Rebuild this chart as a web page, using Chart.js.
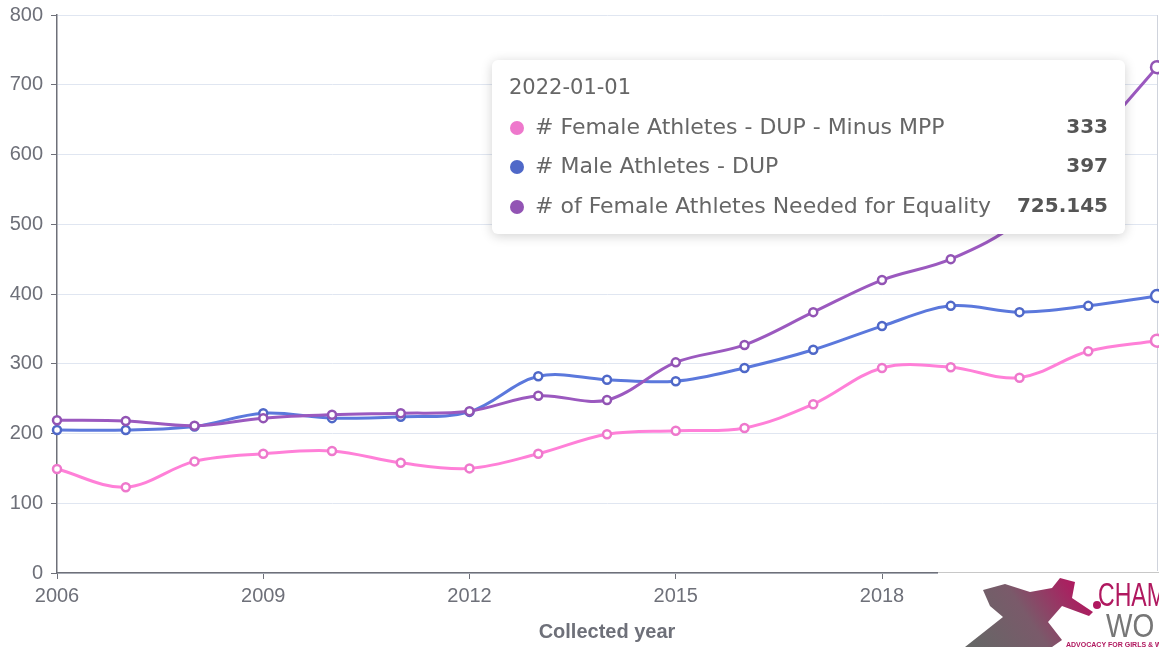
<!DOCTYPE html>
<html><head><meta charset="utf-8">
<script src="https://cdn.jsdelivr.net/npm/chart.js@4.4.1/dist/chart.umd.min.js"></script>
<style>html,body{margin:0;padding:0;background:#fff;}#wrap{width:1159px;height:647px;position:relative;}</style>
</head><body><div id="wrap"><canvas id="c" width="1159" height="647"></canvas></div>
<script>
const years = ['2006','2007','2008','2009','2010','2011','2012','2013','2014','2015','2016','2017','2018','2019','2020','2021','2022'];
const femaleMinusMPP = [149,123,160,171,175,158,150,171,199,204,208,242,294,295,280,318,333];
const maleDUP = [205,205,210,229,222,224,231,282,277,275,294,320,354,383,374,383,397];
const femaleNeeded = [219,218,211,222,227,229,232,254,248,302,327,374,420,450,505,612,725.145];
const seriesNames = ['# Female Athletes - DUP - Minus MPP','# Male Athletes - DUP','# of Female Athletes Needed for Equality'];
const yTicks = [0,100,200,300,400,500,600,700,800];
const tooltipTitle = '2022-01-01';
const activeIndex = 16;

const TIPFONT = '"DejaVu Sans", "Noto Sans", sans-serif';
const AXFONT = '"Liberation Sans", Arial, sans-serif';
const lineColors = ['#ff80d8','#5b78dc','#9b59bf'];
const markColors = ['#ee78cc','#4f68c8','#9254b4'];

function ds(i, data, order){
  return {
    label: seriesNames[i], data, order,
    borderColor: lineColors[i], borderWidth: 3,
    pointBackgroundColor: '#fff', pointBorderColor: markColors[i], pointBorderWidth: 2.5,
    pointRadius: c => c.dataIndex === activeIndex ? 6 : 4,
    tension: 0.35, fill: false, clip: false
  };
}

const zeroPad = () => ({left:0,right:0,top:0,bottom:0});

const pointerPlugin = {
  id: 'pointerLine',
  beforeDatasetsDraw(chart){
    const ctx = chart.ctx, a = chart.chartArea;
    const x = chart.scales.x.getPixelForValue(activeIndex);
    ctx.save();
    ctx.strokeStyle = '#cfd3dc'; ctx.lineWidth = 1;
    ctx.beginPath(); ctx.moveTo(Math.round(x)+0.5, a.top); ctx.lineTo(Math.round(x)+0.5, a.bottom); ctx.stroke();
    ctx.restore();
  }
};

const tooltipPlugin = {
  id: 'fixedTip',
  afterDraw(chart){
    const ctx = chart.ctx;
    const x=492, y=60, w=633, h=174, r=6;
    ctx.save();
    ctx.shadowColor='rgba(0,0,0,0.18)'; ctx.shadowBlur=12; ctx.shadowOffsetY=2;
    ctx.fillStyle='#fff';
    ctx.beginPath(); ctx.roundRect(x,y,w,h,r); ctx.fill();
    ctx.shadowColor='transparent';
    ctx.fillStyle='#666'; ctx.textBaseline='middle';
    ctx.font='21px '+TIPFONT; ctx.textAlign='left';
    ctx.fillText(tooltipTitle, 509, 89);
    const rowsY=[128,167,207];
    chart.data.datasets.forEach((d,i)=>{
      ctx.fillStyle=markColors[i];
      ctx.beginPath(); ctx.arc(517, rowsY[i], 7, 0, Math.PI*2); ctx.fill();
      ctx.fillStyle='#666'; ctx.font='22px '+TIPFONT; ctx.textAlign='left';
      ctx.fillText(d.label, 535, rowsY[i]);
      ctx.fillStyle='#555'; ctx.font='bold 20px '+TIPFONT; ctx.textAlign='right';
      ctx.fillText(String(d.data[activeIndex]), 1108, rowsY[i]);
    });
    ctx.restore();
  }
};

const logoPlugin = {
  id: 'logo',
  afterDraw(chart){
    const ctx = chart.ctx;
    ctx.save();
    ctx.fillStyle='#fff'; ctx.fillRect(938,571,221,76);
    ctx.strokeStyle='#c8c8c8'; ctx.lineWidth=1;
    ctx.beginPath(); ctx.moveTo(938,572.5); ctx.lineTo(1159,572.5); ctx.stroke();
    const g = ctx.createLinearGradient(975,647,1075,580);
    g.addColorStop(0,'#666'); g.addColorStop(0.5,'#7a5a6a'); g.addColorStop(1,'#b0185f');
    ctx.fillStyle=g;
    ctx.beginPath();
    ctx.moveTo(965,647); ctx.lineTo(1003,617); ctx.lineTo(990,606); ctx.lineTo(983,590);
    ctx.lineTo(1005,584); ctx.lineTo(1030,592); ctx.lineTo(1052,588); ctx.lineTo(1060,578);
    ctx.lineTo(1075,582); ctx.lineTo(1072,598); ctx.lineTo(1093,612); ctx.lineTo(1089,616);
    ctx.lineTo(1062,606); ctx.lineTo(1048,622); ctx.lineTo(1062,640); ctx.lineTo(1052,647); ctx.closePath(); ctx.fill();
    ctx.fillStyle='#b0185f';
    ctx.beginPath(); ctx.arc(1097,605,4,0,Math.PI*2); ctx.fill();
    ctx.textBaseline='alphabetic'; ctx.textAlign='left';
    ctx.save(); ctx.translate(1098,606); ctx.scale(0.7,1);
    ctx.font='33px '+AXFONT; ctx.fillStyle='#b0185f'; ctx.fillText('CHAM',0,0);
    ctx.restore();
    ctx.save(); ctx.translate(1106,637); ctx.scale(0.85,1);
    ctx.font='33px '+AXFONT; ctx.fillStyle='#777'; ctx.fillText('WO',0,0);
    ctx.restore();
    ctx.font='bold 7px '+AXFONT; ctx.fillStyle='#b0185f'; ctx.fillText('ADVOCACY FOR GIRLS & WOMEN',1066,647);
    ctx.restore();
  }
};

new Chart(document.getElementById('c'), {
  type:'line',
  data:{ labels: years, datasets:[ ds(0,femaleMinusMPP,3), ds(1,maleDUP,2), ds(2,femaleNeeded,1) ] },
  plugins:[pointerPlugin, tooltipPlugin, logoPlugin],
  options:{
    responsive:false, animation:false, devicePixelRatio:1,
    layout:{ autoPadding:false, padding:{ top:15, right:2, left:0, bottom:0 } },
    plugins:{ legend:{display:false}, tooltip:{enabled:false} },
    scales:{
      x:{
        offset:false,
        grid:{ drawOnChartArea:false, drawTicks:true, tickLength:6, color: c => (c.index%3===0 ? '#6E7079' : 'transparent') },
        border:{ color:'#6E7079', width:1.5 },
        ticks:{ autoSkip:false, maxRotation:0, color:'#6E7079', font:{ family:AXFONT, size:20 }, padding:5,
          callback:(v,i)=> i%3===0 ? years[i] : '' },
        title:{ display:true, text:'Collected year', color:'#6E7079', font:{ family:AXFONT, size:20, weight:'bold' }, padding:{top:0,bottom:3} },
        afterFit: s => { s.height = 74; s.paddingLeft = 0; s.paddingRight = 0; s.getPadding = zeroPad; }
      },
      y:{
        min:0, max:800,
        afterBuildTicks: s => { s.ticks = yTicks.map(v=>({value:v})); },
        grid:{ color:'#E0E6F1', lineWidth:1, drawTicks:true, tickLength:6, tickColor:'#6E7079' },
        border:{ color:'#6E7079', width:1.5 },
        ticks:{ color:'#6E7079', font:{ family:AXFONT, size:20 }, padding:8 },
        afterFit: s => { s.width = 57; s.paddingTop = 0; s.paddingBottom = 0; s.getPadding = zeroPad; }
      }
    }
  }
});
</script></body></html>
